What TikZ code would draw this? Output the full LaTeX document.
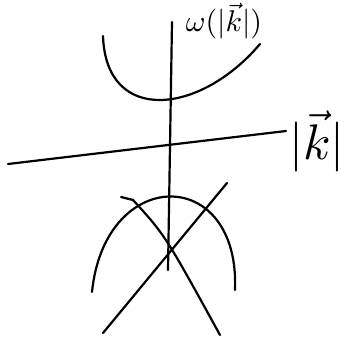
\documentclass[tikz,border=0pt]{standalone}
\usepackage{amsmath}
\begin{document}
\begin{tikzpicture}[x=1pt, y=-1pt, line width=2.2pt, line cap=round]
  \useasboundingbox (0,0) rectangle (350,338);
  % === axes ===
  \draw (8,164) -- (286,131);               % |k| axis
  \draw (172,22) -- (168,270);              % omega axis
  \node[scale=3.0, inner sep=0pt] (wlab) at (224,21) {$\omega(|\vec{k}|)$};
  \node[scale=5.0, inner sep=0pt] (klab) at (317,141) {$|\vec{k}|$};
  % === upper branch ===
  \draw (103,36) .. controls (106,125) and (200,115) .. (260,44);
  % === lower branch ===
  \draw (92,292) .. controls (105,165) and (240,165) .. (235,290);
  % === crossing lines ===
  \draw (227,183) -- (103,333);
  \draw (121,197) -- (133,200) .. controls (165,235) .. (220,335);
\end{tikzpicture}
\end{document}
